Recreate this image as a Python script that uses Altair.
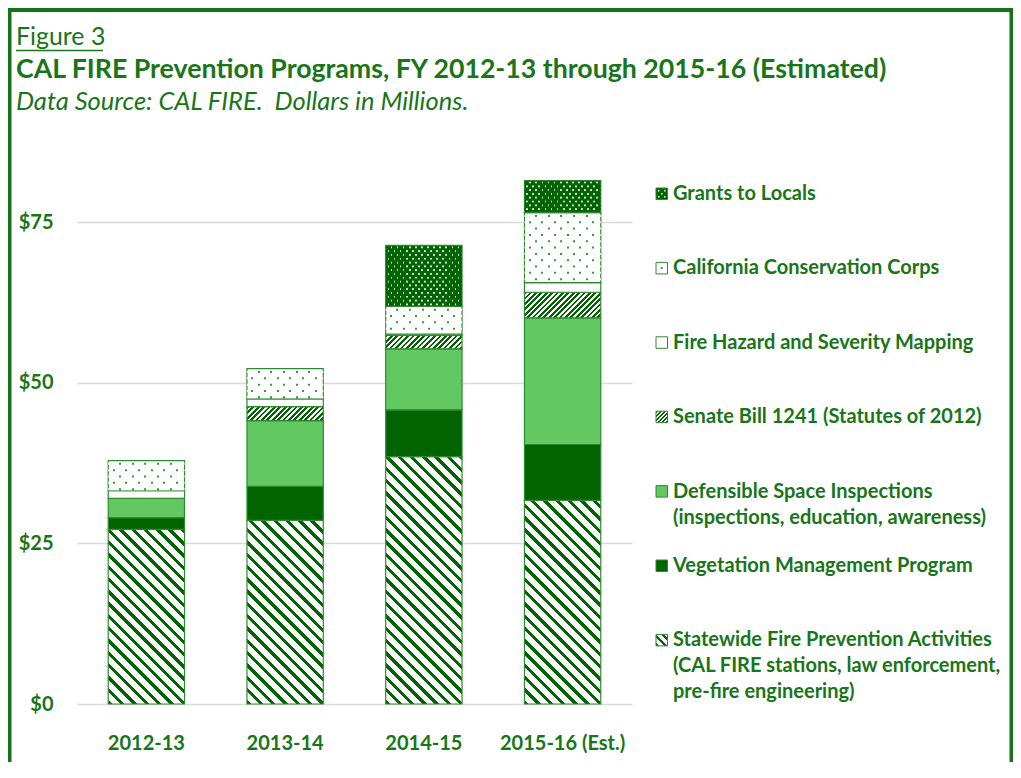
import altair as alt
import pandas as pd

# ---------------- data ----------------
years = ["2012-13", "2013-14", "2014-15", "2015-16 (Est.)"]
series_keys = ["Statewide", "Vegetation", "Defensible", "SB1241", "Mapping", "CCC", "Grants"]
statewide = [27.2, 28.6, 38.5, 31.7]
vegetation = [1.8, 5.3, 7.3, 8.7]
defensible = [3.0, 10.2, 9.5, 19.7]
sb1241 = [0.0, 2.2, 2.1, 4.0]
hazard_mapping = [1.2, 1.2, 0.2, 1.5]
conservation_corps = [4.7, 4.7, 4.3, 10.9]
grants = [0.0, 0.0, 9.5, 5.0]
y_ticks = [0, 25, 50, 75]
legend_keys = ["Grants", "CCC", "Mapping", "SB1241", "Defensible", "Vegetation", "Statewide"]
legend_labels = [
    "Grants to Locals",
    "California Conservation Corps",
    "Fire Hazard and Severity Mapping",
    "Senate Bill 1241 (Statutes of 2012)",
    "Defensible Space Inspections\n(inspections, education, awareness)",
    "Vegetation Management Program",
    "Statewide Fire Prevention Activities\n(CAL FIRE stations, law enforcement,\npre-fire engineering)",
]
fig_label = "Figure 3"
title_text = "CAL FIRE Prevention Programs, FY 2012-13 through 2015-16 (Estimated)"
subtitle_text = "Data Source: CAL FIRE.\u00a0 Dollars in Millions."

values_by_series = {
    "Statewide": statewide,
    "Vegetation": vegetation,
    "Defensible": defensible,
    "SB1241": sb1241,
    "Mapping": hazard_mapping,
    "CCC": conservation_corps,
    "Grants": grants,
}

records = []
for i, k in enumerate(series_keys):
    for yr, v in zip(years, values_by_series[k]):
        records.append({"year": yr, "series": k, "ord": i, "value": v})
df = pd.DataFrame(records)

# ---------------- layout / style ----------------
W, H = 555, 546
YMAX = 85
PX = H / YMAX
STEP = W / len(years)
BW = STEP * 0.55
OX, OY = 77, 158
PAD = {"left": 69, "top": 150, "right": 381, "bottom": 58}

DARK = "#006400"
LIGHT = "#62c962"
OUTLINE = "#2f8a2f"
TEXT = "#187518"
GRID = "#d9d9d9"
FRAME = "#17731a"
DOT = "#3a983a"
GDOT = "#e4f3e4"
FONT = "Lato"


def stripes(w, h, period, frac, slope, dark, light):
    L = w + h
    stops = []
    c = 0.0
    while c < L - 1e-9:
        o0 = min(c / L, 1.0)
        o1 = min((c + period * frac) / L, 1.0)
        o2 = min((c + period) / L, 1.0)
        stops += [
            {"offset": round(o0, 5), "color": dark},
            {"offset": round(o1, 5), "color": dark},
            {"offset": round(o1, 5), "color": light},
            {"offset": round(o2, 5), "color": light},
        ]
        c += period
    a = (w + h) / (w * w + h * h)
    if slope == "\\":
        g = {"x1": 0, "y1": 1, "x2": a * w, "y2": 1 - a * h}
    else:
        g = {"x1": 0, "y1": 0, "x2": a * w, "y2": a * h}
    return {"gradient": "linear", **g, "stops": stops}


def dot_grad(w, first, step, dot, color, bg):
    stops = [{"offset": 0, "color": bg}]
    x = first
    while x + dot < w - 0.8:
        o0, o1 = round(x / w, 5), round((x + dot) / w, 5)
        stops += [
            {"offset": o0, "color": bg}, {"offset": o0, "color": color},
            {"offset": o1, "color": color}, {"offset": o1, "color": bg},
        ]
        x += step
    stops.append({"offset": 1, "color": bg})
    return {"gradient": "linear", "x1": 0, "y1": 0, "x2": 1, "y2": 0, "stops": stops}


def seg_fill(key, w, h):
    if key == "Statewide":
        return stripes(w, h, 12.3, 0.36, "\\", DARK, "white")
    if key == "SB1241":
        return stripes(w, h, 5.4, 0.5, "/", DARK, "white")
    if key in ("Vegetation", "Grants"):
        return DARK
    if key == "Defensible":
        return LIGHT
    return "white"


conds = []
for k in series_keys:
    for yr, v in zip(years, values_by_series[k]):
        if v <= 0:
            continue
        conds.append({
            "test": f"datum.series === '{k}' && datum.year === '{yr}'",
            "value": seg_fill(k, BW, v * PX),
        })

xscale = alt.Scale(domain=years, paddingInner=0.45, paddingOuter=0.225)
yscale = alt.Scale(domain=[0, YMAX], nice=False)
xaxis = alt.Axis(
    title=None, labelFont=FONT, labelFontSize=20, labelFontWeight="bold",
    labelColor=TEXT, labelPadding=29, domain=False, ticks=False,
    labelAngle=0, grid=False)
yaxis = alt.Axis(
    title=None, values=y_ticks, labelExpr="'$' + datum.value",
    labelFont=FONT, labelFontSize=20, labelFontWeight="bold",
    labelColor=TEXT, labelPadding=24, domain=False, ticks=False,
    grid=True, gridColor=GRID, gridWidth=1.5)

base = alt.Chart(df).transform_filter("datum.value > 0").transform_stack(
    stack="value", groupby=["year"], as_=["y0", "y1"],
    sort=[alt.SortField("ord", order="ascending")],
)

bars = base.mark_bar(stroke=OUTLINE, strokeWidth=1.2).encode(
    x=alt.X("year:N", scale=xscale, axis=xaxis),
    y=alt.Y("y0:Q", scale=yscale, axis=yaxis),
    y2="y1:Q",
    fill=alt.value("white", condition=conds),
)


def dot_rows(key, row_px, col_px, first_row_px, first_col_px, dot_px, color, bg):
    dy = row_px / PX
    half = dot_px / 2 / PX
    src = base.transform_filter(f"datum.series === '{key}'").transform_calculate(
        rows=f"sequence(datum.y1 - {first_row_px / PX}, datum.y0 + {1.2 / PX}, -{dy})"
    ).transform_flatten(["rows"], as_=["ry"]).transform_calculate(
        ri=f"round((datum.y1 - {first_row_px / PX} - datum.ry) / {dy})",
        ra=f"datum.ry + {half}",
        rb=f"datum.ry - {half}",
    )
    out = []
    for parity, shift in [(0, col_px / 2), (1, 0.0)]:
        out.append(src.transform_filter(f"datum.ri % 2 === {parity}").mark_bar(
            fill=dot_grad(BW, first_col_px + shift, col_px, dot_px, color, bg),
            strokeWidth=0,
        ).encode(
            x=alt.X("year:N", scale=xscale, axis=xaxis),
            y=alt.Y("ra:Q", scale=yscale, axis=yaxis),
            y2="rb:Q",
        ))
    return out


ccc_dots = dot_rows("CCC", 6.33, 12.67, 3.3, 4.3, 2.0, DOT, "white")
grant_dots = dot_rows("Grants", 3.8, 6.1, 2.0, 1.8, 1.7, GDOT, DARK)

one = alt.Data(values=[{"a": 1}])


def txt(text, px, py, size, weight="normal", style="normal", **kw):
    return alt.Chart(one).mark_text(
        text=text, font=FONT, fontSize=size, fontWeight=weight, fontStyle=style,
        color=TEXT, align="left", baseline="alphabetic", **kw
    ).encode(x=alt.value(px - OX), y=alt.value(py - OY))


def hrule(px1, px2, py, color, w):
    return alt.Chart(one).mark_rule(color=color, strokeWidth=w).encode(
        x=alt.value(px1 - OX), x2=alt.value(px2 - OX), y=alt.value(py - OY))


def vrule(px, py1, py2, color, w):
    return alt.Chart(one).mark_rule(color=color, strokeWidth=w).encode(
        x=alt.value(px - OX), y=alt.value(py1 - OY), y2=alt.value(py2 - OY))


layers = [
    bars,
    *ccc_dots,
    *grant_dots,
    hrule(8, 1013, 10, FRAME, 4),
    vrule(9.75, 8, 790, FRAME, 3.5),
    vrule(1011.25, 8, 790, FRAME, 3.5),
    txt(fig_label, 16, 45, 24.9),
    hrule(16, 103, 50.5, TEXT, 1.6),
    txt(title_text, 16, 77.5, 26.7, weight="bold"),
    txt(subtitle_text, 16, 110, 25.5, style="italic"),
]

# ---------------- custom legend ----------------
LEG_TOP = 200
LEG_STEP = 74.4
SYM = 11.5
for i, (k, lab) in enumerate(zip(legend_keys, legend_labels)):
    b = LEG_TOP + i * LEG_STEP
    sx0, sx1 = 656, 656 + SYM
    sy0, sy1 = b - SYM - 0.5, b - 0.5
    if k == "Statewide":
        f = stripes(SYM, SYM, 8.0, 0.4, "\\", DARK, "white")
    elif k == "SB1241":
        f = stripes(SYM, SYM, 4.0, 0.5, "/", DARK, "white")
    else:
        f = seg_fill(k, SYM, SYM)
    layers.append(alt.Chart(one).mark_rect(fill=f, stroke=OUTLINE, strokeWidth=1).encode(
        x=alt.value(sx0 - OX), x2=alt.value(sx1 - OX),
        y=alt.value(sy0 - OY), y2=alt.value(sy1 - OY)))
    if k == "CCC":
        layers.append(alt.Chart(one).mark_square(size=4, color=DOT, opacity=1).encode(
            x=alt.value((sx0 + sx1) / 2 - OX), y=alt.value((sy0 + sy1) / 2 - OY)))
    if k == "Grants":
        for dx, dyy in [(-3, -3), (3, -3), (0, 0), (-3, 3), (3, 3)]:
            layers.append(alt.Chart(one).mark_square(size=2.5, color=GDOT, opacity=1).encode(
                x=alt.value((sx0 + sx1) / 2 + dx - OX), y=alt.value((sy0 + sy1) / 2 + dyy - OY)))
    layers.append(txt(lab, 673, b, 20.0, weight="bold", lineBreak="\n", lineHeight=26))

chart = alt.layer(*layers).properties(
    width=W, height=H,
    autosize=alt.AutoSizeParams(type="none"),
    padding=PAD,
    background="white",
).configure_view(stroke=None)

chart.save("out.html", embed_options={"renderer": "svg", "actions": False})
